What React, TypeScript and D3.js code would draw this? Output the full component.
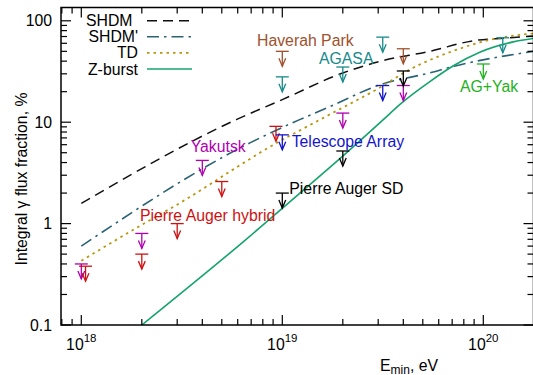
import React from 'react';
import * as d3 from 'd3';

const W = 533, H = 375;
const left = 61, right = 533.5, top = 7.5, bottom = 325;
const FONT = "'Liberation Sans', Arial, sans-serif";

// Model curves (E in eV, integral photon fraction in %)
const shdmE = [1e18, 5.9e18, 1e19, 2e19, 3.06e19, 5.4e19, 9.1e19, 1.3e20, 1.78e20];
const shdmV = [1.58, 10.6, 16.7, 30.6, 39.8, 50, 64, 67.6, 71];
const shdmPE = [1e18, 6.9e18, 1.22e19, 1.73e19, 3.06e19, 5.4e19, 7.1e19, 1.78e20];
const shdmPV = [0.6, 6.25, 10.6, 14.3, 23.4, 30.6, 35.5, 50];
const tdE = [1e18, 2.1e18, 3.1e18, 6.2e18, 8e18, 1.54e19, 3.06e19, 4.3e19, 7.4e19, 1.08e20, 1.78e20];
const tdV = [0.43, 1.03, 1.6, 3.8, 5.2, 10.6, 22, 33, 52, 65, 75];
const zbE = [2e18, 6.5e18, 1.2e19, 1.73e19, 3.18e19, 3.85e19, 5.4e19, 7.1e19, 9.6e19, 1.41e20, 1.78e20];
const zbV = [0.1, 0.68, 1.93, 3.6, 10.6, 15, 25, 36, 49, 62, 67];

// Experimental upper limits
const yakE = [1e18, 2e18, 4e18, 2e19, 4e19];
const yakV = [0.4, 0.8, 4.2, 12.3, 23];
const pahE = [1.05e18, 2e18, 3e18, 5e18, 9.3e18];
const pahV = [0.38, 0.5, 1.0, 2.6, 9.1];
const pasdE = [1e19, 2e19, 4e19];
const pasdV = [2.0, 5.2, 32];
const taE = [1e19, 3.16e19];
const taV = [7.5, 23];
const agasaE = [1e19, 2e19, 3.16e19, 1.25e20];
const agasaV = [28, 35, 69, 68];
const hpE = [1e19, 4e19];
const hpV = [50, 53];
const agyE = [1e20];
const agyV = [37.5];

const xMajor = [1e18, 1e19, 1e20];
const xMajorLabels = ['18', '19', '20'];
const yMajor = [0.1, 1, 10, 100];
const yMajorLabels = ['0.1', '1', '10', '100'];

const legendNames = ['SHDM', "SHDM'", 'TD', 'Z-burst'];

const sx = d3.scaleLog().domain([1e18, 1e20]).range([81.3, 483.3]);
const sy = d3.scaleLog().domain([0.1, 100]).range([325, 20.8]);

function minorTicks(lo: number, hi: number, decs: number[]) {
  const out: number[] = [];
  decs.forEach(d => { for (let m = 2; m <= 9; m++) { const v = m * d; if (v > lo && v < hi) out.push(v); } });
  return out;
}
const xMin = sx.invert(left), xMax = sx.invert(right);
const yMin = sy.invert(bottom), yMax = sy.invert(top);
const xMinor = minorTicks(xMin, xMax, [1e17, 1e18, 1e19, 1e20]);
const yMinor = minorTicks(yMin, yMax, [0.01, 0.1, 1, 10, 100]);

const line = d3.line<[number, number]>().x(d => sx(d[0])).y(d => sy(d[1])).curve(d3.curveMonotoneX);
const zip = (a: number[], b: number[]) => a.map((v, i) => [v, b[i]] as [number, number]);

const curves = [
  { name: legendNames[0], d: line(zip(shdmE, shdmV)), color: '#111', dash: '10,6', w: 1.5 },
  { name: legendNames[1], d: line(zip(shdmPE, shdmPV)), color: '#2a6373', dash: '12,5,2.5,5', w: 1.6 },
  { name: legendNames[2], d: line(zip(tdE, tdV)), color: '#b8960e', dash: '2.5,4', w: 1.8 },
  { name: legendNames[3], d: line(zip(zbE, zbV)), color: '#14a46c', dash: '', w: 1.6 },
];

const limits = [
  { E: yakE, V: yakV, color: '#b000b0' },
  { E: pahE, V: pahV, color: '#cc1111' },
  { E: pasdE, V: pasdV, color: '#000' },
  { E: taE, V: taV, color: '#1414cc' },
  { E: agasaE, V: agasaV, color: '#178a8a' },
  { E: hpE, V: hpV, color: '#a0522d' },
  { E: agyE, V: agyV, color: '#22b222' },
];

const labels = [
  { t: 'Haverah Park', x: 257, y: 46, c: '#a0522d' },
  { t: 'AGASA', x: 319, y: 64, c: '#178a8a' },
  { t: 'AG+Yak', x: 460, y: 91.7, c: '#22b222' },
  { t: 'Yakutsk', x: 190.7, y: 151.7, c: '#b000b0' },
  { t: 'Telescope Array', x: 291.7, y: 146.7, c: '#1414cc' },
  { t: 'Pierre Auger SD', x: 289.3, y: 194, c: '#000' },
  { t: 'Pierre Auger hybrid', x: 140, y: 220.7, c: '#cc1111' },
];

function Marker({ x, y, c }: { x: number; y: number; c: string }) {
  return (
    <g stroke={c} strokeWidth={1.3} fill="none">
      <line x1={x - 6.5} x2={x + 6.5} y1={y} y2={y} />
      <line x1={x} x2={x} y1={y} y2={y + 15} />
      <path d={`M${x - 3.4},${y + 7} L${x},${y + 15} L${x + 3.4},${y + 7}`} />
    </g>
  );
}

export default function App() {
  const fs = 15.8;
  return (
    <svg width={W} height={H} style={{ position: 'absolute', left: 0, top: 0, background: '#fff' }} fontFamily={FONT}>
      <defs>
        <clipPath id="clip"><rect x={left} y={top} width={right - left} height={bottom - top} /></clipPath>
      </defs>
      <rect x={0} y={0} width={W} height={H} fill="#fff" />
      <g clipPath="url(#clip)">
        {curves.map((c, i) => (
          <path key={i} d={c.d || ''} fill="none" stroke={c.color} strokeWidth={c.w} strokeDasharray={c.dash} />
        ))}
      </g>
      {limits.map((s, i) => s.E.map((e, j) => <Marker key={i + '-' + j} x={sx(e)} y={sy(s.V[j])} c={s.color} />))}
      {labels.map((l, i) => (
        <text key={i} x={l.x} y={l.y} fill={l.c} fontSize={fs}>{l.t}</text>
      ))}
      {curves.map((c, i) => {
        const yc = 20.7 + 16.1 * i;
        return (
          <g key={i}>
            <text x={i === 0 ? 132.5 : 138} y={yc + 5.5} textAnchor="end" fontSize={fs} fill="#000">{c.name}</text>
            <line x1={147} x2={192} y1={yc} y2={yc} stroke={c.color} strokeWidth={c.w} strokeDasharray={c.dash} />
          </g>
        );
      })}
      <rect x={left} y={top} width={right - left} height={bottom - top} fill="none" stroke="#000" strokeWidth={1.5} />
      <g stroke="#000" strokeWidth={1.2}>
        {xMajor.map((v, i) => (
          <g key={'xm' + i}>
            <line x1={sx(v)} x2={sx(v)} y1={bottom} y2={bottom - 10} />
            <line x1={sx(v)} x2={sx(v)} y1={top} y2={top + 10} />
          </g>
        ))}
        {xMinor.map((v, i) => (
          <g key={'xn' + i}>
            <line x1={sx(v)} x2={sx(v)} y1={bottom} y2={bottom - 6} />
            <line x1={sx(v)} x2={sx(v)} y1={top} y2={top + 6} />
          </g>
        ))}
        {yMajor.map((v, i) => (
          <g key={'ym' + i}>
            <line x1={left} x2={left + 10} y1={sy(v)} y2={sy(v)} />
            <line x1={right} x2={right - 10} y1={sy(v)} y2={sy(v)} />
          </g>
        ))}
        {yMinor.map((v, i) => (
          <g key={'yn' + i}>
            <line x1={left} x2={left + 6} y1={sy(v)} y2={sy(v)} />
            <line x1={right} x2={right - 6} y1={sy(v)} y2={sy(v)} />
          </g>
        ))}
      </g>
      {xMajor.map((v, i) => (
        <text key={'xl' + i} x={sx(v)} y={350} textAnchor="middle" fontSize={fs} fill="#000">
          10<tspan dy={-8} fontSize={11.5}>{xMajorLabels[i]}</tspan>
        </text>
      ))}
      {yMajor.map((v, i) => (
        <text key={'yl' + i} x={52} y={sy(v) + 5.5} textAnchor="end" fontSize={fs} fill="#000">{yMajorLabels[i]}</text>
      ))}
      <text x={380} y={370.5} fontSize={fs} fill="#000">
        E<tspan dy={3} fontSize={12}>min</tspan><tspan dy={-3}>, eV</tspan>
      </text>
      <text transform="translate(27,179) rotate(-90)" textAnchor="middle" fontSize={fs} fill="#000">
        Integral γ flux fraction, %
      </text>
    </svg>
  );
}
